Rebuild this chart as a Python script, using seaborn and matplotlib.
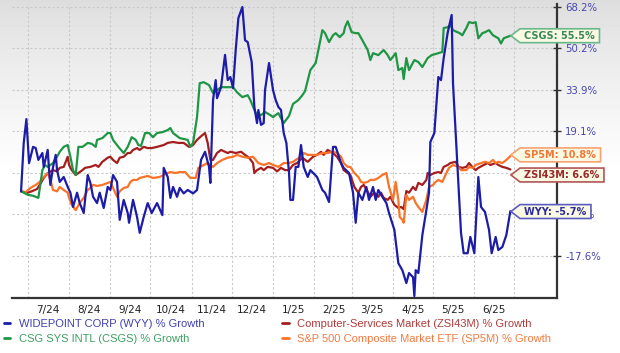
import numpy as np
import pandas as pd
import seaborn as sns
import matplotlib
matplotlib.use('Agg')
import matplotlib.pyplot as plt
import matplotlib.dates as mdates
from matplotlib.path import Path
from matplotlib.lines import Line2D
from matplotlib.ticker import FixedLocator, FixedFormatter, NullFormatter

# % growth, x given as days after the first point
start_date = pd.Timestamp('2024-06-26')

wyy_day = [0, 2, 4, 6, 9, 11, 13, 16, 17, 20,
           21, 22, 24, 26, 27, 29, 32, 35, 37, 39,
           42, 44, 47, 50, 52, 54, 57, 59, 62, 65,
           67, 69, 72, 74, 77, 80, 81, 84, 87, 89,
           92, 95, 98, 102, 106, 107, 110, 112, 114, 117,
           119, 122, 125, 129, 132, 135, 138, 141, 142, 144,
           146, 147, 150, 153, 155, 157, 159, 161, 163, 166,
           168, 170, 173, 175, 177, 178, 180, 182, 183, 186,
           189, 191, 193, 195, 197, 199, 201, 202, 204, 206,
           208, 210, 212, 215, 217, 222, 226, 228, 231, 234,
           236, 240, 242, 246, 249, 251, 253, 256, 259, 261,
           264, 266, 268, 271, 274, 276, 280, 283, 286, 289,
           291, 294, 295, 296, 298, 301, 304, 306, 307, 310,
           313, 315, 317, 320, 323, 324, 328, 330, 332, 335,
           337, 340, 343, 345, 348, 351, 353, 356, 358, 361,
           364, 367]
wyy_pct = [0, 15.1, 23.2, 8.6, 13.8, 13.4, 9.6, 11.8, 7.4, 12.8,
           6.4, 1.9, 7.4, 11.2, 6.4, 2.8, 4.3, 1.3, -0.4, -4.5,
           -0.4, -3.4, -6.2, 4.9, 2.5, -1.6, -3.4, -0.4, -4.8, 1.3,
           0.4, 4.9, 2.8, -8.1, -2.5, -6.2, -8.9, -2.5, -7.3, -11.6,
           -7.3, -3.4, -6.2, -3.4, -6.8, 7.1, 4.3, -1.9, 1.3, -1.6,
           1.0, -0.6, 0.4, -0.6, 0.4, 9.6, 12.2, 7.4, 2.5, 30.0,
           37.5, 30.7, 34.8, 47.5, 37.5, 38.7, 34.5, 49.5, 63.2, 68.2,
           53.6, 52.8, 44.6, 27.5, 21.8, 26.4, 21.2, 21.8, 33.7, 44.2,
           33.7, 30.0, 27.5, 26.4, 18.4, 15.1, 5.5, -2.5, -2.5, 7.4,
           7.4, 14.4, 7.4, 4.3, 6.4, 4.3, 0.4, -0.4, -3.1, 13.8,
           13.8, 8.6, 7.1, 5.5, -0.4, -8.9, -0.4, -2.5, 1.3, -2.5,
           1.3, -2.5, 0.4, -1.6, -3.4, -6.2, -10.8, -19.4, -21.1, -24.2,
           -21.8, -22.8, -27.2, -21.1, -21.8, -12.2, -5.4, -0.4, 15.4, 18.4,
           38.7, 37.5, 46.2, 56.8, 64.6, 36.3, 2.5, -11.6, -16.9, -16.9,
           -12.7, -16.9, 4.3, -4.5, -5.9, -10.8, -16.9, -12.7, -16.1, -15.3,
           -12.2, -5.7]

csgs_day = [0, 5, 9, 13, 16, 18, 20, 24, 27, 29,
            32, 35, 37, 39, 41, 43, 46, 48, 50, 53,
            56, 57, 61, 65, 67, 69, 73, 77, 80, 83,
            86, 88, 90, 93, 96, 99, 102, 106, 110, 112,
            114, 119, 125, 127, 129, 132, 134, 137, 141, 144,
            147, 150, 155, 159, 162, 166, 170, 172, 176, 180,
            183, 187, 189, 193, 197, 201, 204, 208, 211, 213,
            217, 221, 223, 226, 228, 231, 234, 236, 239, 242,
            243, 245, 248, 251, 253, 256, 260, 262, 264, 268,
            272, 275, 277, 281, 283, 286, 287, 289, 291, 295,
            298, 301, 305, 308, 313, 316, 317, 320, 322, 324,
            329, 331, 334, 336, 339, 341, 343, 346, 348, 351,
            354, 358, 360, 362, 367]
csgs_pct = [0, -1.0, -1.3, -1.9, 6.4, 8.0, 7.4, 8.6, 10.6, 12.2,
            13.8, 14.4, 10.6, 6.4, 4.9, 13.8, 13.8, 14.4, 15.1, 14.8,
            13.8, 16.1, 16.7, 18.4, 18.4, 16.1, 13.8, 11.8, 13.8, 17.0,
            16.1, 14.4, 14.1, 18.4, 18.4, 17.0, 18.4, 18.7, 19.4, 20.1,
            18.4, 16.7, 16.1, 13.8, 15.1, 23.9, 36.3, 36.7, 35.6, 32.6,
            33.7, 34.8, 34.8, 34.8, 32.9, 31.1, 31.8, 30.0, 25.3, 24.6,
            25.7, 24.6, 23.9, 25.3, 21.8, 24.3, 28.6, 30.0, 31.8, 33.3,
            41.4, 44.2, 49.5, 57.9, 56.6, 52.8, 55.7, 56.6, 54.9, 56.6,
            59.2, 61.8, 57.0, 56.6, 56.6, 53.6, 49.5, 45.4, 48.2, 47.4,
            49.5, 47.4, 45.4, 48.2, 41.4, 42.2, 37.9, 46.2, 41.4, 45.4,
            44.6, 42.6, 46.2, 47.4, 48.2, 48.7, 58.8, 59.2, 60.1, 57.9,
            56.6, 55.7, 58.8, 61.4, 61.0, 61.4, 54.4, 56.6, 57.0, 57.9,
            55.7, 54.4, 52.2, 54.4, 55.5]

zsi_day = [0, 5, 8, 12, 14, 17, 20, 24, 27, 29,
           32, 35, 36, 38, 41, 43, 46, 48, 52, 56,
           58, 61, 65, 67, 69, 72, 74, 77, 80, 82,
           84, 87, 89, 92, 95, 98, 102, 107, 110, 114,
           118, 122, 126, 129, 132, 136, 138, 140, 142, 144,
           147, 150, 155, 157, 161, 165, 168, 171, 174, 175,
           177, 180, 182, 185, 189, 192, 195, 198, 201, 204,
           207, 211, 215, 219, 222, 225, 227, 230, 234, 237,
           240, 242, 245, 247, 250, 253, 255, 257, 260, 262,
           265, 268, 270, 272, 275, 277, 280, 283, 285, 287,
           289, 291, 294, 296, 298, 301, 304, 305, 307, 310,
           313, 315, 317, 320, 322, 326, 328, 331, 334, 336,
           339, 341, 343, 347, 350, 352, 356, 358, 361, 364,
           367]
zsi_pct = [0, -0.4, 0, 0.7, 1.9, 4.0, 5.5, 6.4, 6.0, 7.1,
           7.4, 10.6, 8.0, 6.4, 4.9, 5.5, 6.4, 7.1, 7.4, 8.0,
           7.4, 9.0, 10.3, 10.6, 9.6, 8.6, 10.3, 10.6, 11.8, 11.8,
           12.8, 13.4, 12.8, 13.8, 13.4, 13.4, 13.8, 14.4, 15.1, 15.4,
           15.1, 15.1, 13.8, 14.4, 16.1, 17.7, 18.4, 15.1, 9.6, 9.6,
           11.8, 12.8, 11.8, 12.2, 11.8, 12.2, 11.2, 10.3, 8.6, 5.5,
           6.4, 7.1, 6.4, 7.4, 7.1, 6.0, 7.1, 6.4, 6.4, 8.0,
           8.6, 10.3, 9.0, 10.6, 11.2, 12.2, 11.2, 12.8, 11.8, 10.6,
           8.6, 6.4, 5.5, 4.9, 1.3, -0.4, 1.3, 1.9, -0.1, -1.6,
           -0.4, -1.6, -0.4, -1.9, -2.5, -1.6, -3.9, -4.8, -4.5, -5.1,
           0.1, -0.4, 1.3, 0.4, 2.5, 1.9, 3.4, 5.5, 4.9, 5.5,
           5.8, 5.5, 7.4, 8.0, 8.6, 9.0, 7.4, 7.1, 7.4, 8.6,
           7.1, 6.4, 7.1, 8.0, 8.6, 8.0, 8.6, 8.0, 7.4, 7.1,
           6.6]

sp5_day = [0, 3, 7, 11, 14, 17, 20, 22, 24, 27,
           29, 32, 35, 36, 38, 41, 44, 47, 50, 52,
           54, 57, 61, 65, 67, 69, 72, 74, 77, 80,
           82, 84, 87, 89, 92, 95, 99, 104, 110, 112,
           116, 119, 123, 127, 131, 133, 137, 140, 142, 144,
           147, 151, 155, 159, 162, 166, 170, 174, 176, 178,
           182, 186, 189, 193, 197, 201, 204, 206, 210, 212,
           215, 219, 222, 226, 230, 234, 237, 240, 242, 245,
           247, 250, 253, 255, 257, 260, 262, 265, 268, 271,
           274, 276, 279, 281, 283, 284, 286, 287, 289, 291,
           294, 296, 298, 301, 304, 306, 309, 311, 313, 316,
           319, 321, 324, 328, 330, 334, 336, 339, 341, 345,
           348, 351, 354, 356, 358, 361, 364, 367]
sp5_pct = [0, -0.4, 1.0, 1.9, 2.8, 4.3, 5.5, 3.4, 0.4, 0,
           1.3, 0.4, -0.4, -1.9, -3.9, -5.4, -3.4, -1.9, 0.4, 1.0,
           1.9, 1.6, 1.9, 2.5, 2.8, 1.0, -1.6, 0, 1.0, 1.3,
           2.8, 3.4, 3.4, 4.0, 4.3, 4.6, 4.0, 4.3, 5.5, 5.8,
           5.5, 5.8, 5.8, 4.0, 4.0, 7.1, 8.0, 8.6, 8.0, 7.4,
           8.6, 9.6, 10.3, 10.6, 11.2, 10.6, 10.3, 10.6, 9.6, 8.6,
           8.0, 8.6, 8.0, 7.4, 8.6, 8.6, 9.0, 9.6, 10.6, 11.8,
           11.2, 11.2, 11.2, 11.8, 11.8, 12.2, 11.8, 10.6, 8.6, 7.4,
           7.4, 5.5, 4.3, 2.8, 2.5, 2.8, 3.4, 3.4, 4.0, 4.9,
           5.5, 1.3, -2.5, 2.8, -2.5, -7.3, -8.1, -8.9, -1.1, -2.5,
           -1.6, -3.4, -4.5, -5.9, -2.5, 1.3, 1.9, 2.8, 3.4, 2.8,
           5.5, 7.1, 8.0, 7.4, 6.4, 6.4, 7.4, 7.1, 8.0, 8.6,
           9.0, 8.6, 9.6, 8.6, 9.0, 8.6, 9.6, 10.8]

series_names = ['ZSI43M', 'SP5M', 'CSGS', 'WYY']
line_colors = {'WYY': '#1c1ca8', 'CSGS': '#1f9645', 'ZSI43M': '#a41e1e', 'SP5M': '#fb7328'}

tag_text = {'WYY': 'WYY: -5.7%', 'CSGS': 'CSGS: 55.5%', 'ZSI43M': 'ZSI43M: 6.6%', 'SP5M': 'SP5M: 10.8%'}
tag_y = {'WYY': -5.8, 'CSGS': 55.5, 'ZSI43M': 4.9, 'SP5M': 11.2}
tag_text_col = {'WYY': '#2c2c9c', 'CSGS': '#3a8a55', 'ZSI43M': '#9a2a2a', 'SP5M': '#f07838'}
tag_edge_col = {'WYY': '#5c5cc0', 'CSGS': '#6ab88a', 'ZSI43M': '#b25555', 'SP5M': '#f7a272'}

legend_labels = ['WIDEPOINT CORP (WYY) % Growth', 'CSG SYS INTL (CSGS) % Growth',
                 'Computer-Services Market (ZSI43M) % Growth', 'S&P 500 Composite Market ETF (SP5M) % Growth']
legend_keys = ['WYY', 'CSGS', 'ZSI43M', 'SP5M']
legend_text_col = ['#4040b0', '#3f9f62', '#b03a3a', '#f27a42']

ytick_vals = [-17.6, -6.5, 5.5, 19.1, 33.9, 50.2, 68.2]
ytick_labels = ['-17.6%', '-6.5%', '5.5%', '19.1%', '33.9%', '50.2%', '68.2%']
month_labels = ['7/24', '8/24', '9/24', '10/24', '11/24', '12/24',
                '1/25', '2/25', '3/25', '4/25', '5/25', '6/25']


def tag_box(x0, y0, width, height, mutation_size):
	# price-tag shaped box, pointed on the left
	padx = 0.45 * mutation_size
	pady = 0.2 * mutation_size
	x0, y0 = x0 - padx, y0 - pady
	x1, y1 = x0 + width + 2 * padx, y0 + height + 2 * pady
	tip = 0.65 * (y1 - y0)
	verts = [(x0, y0), (x1, y0), (x1, y1), (x0, y1), (x0 - tip, (y0 + y1) / 2), (x0, y0)]
	return Path(verts, closed=True)


def fwd(v):
	return np.log(np.maximum(np.asarray(v, dtype=float) + 122.0, 1e-6))


def inv(t):
	return np.exp(t) - 122.0


frames = []
for name, days, pct in [('ZSI43M', zsi_day, zsi_pct), ('SP5M', sp5_day, sp5_pct),
                        ('CSGS', csgs_day, csgs_pct), ('WYY', wyy_day, wyy_pct)]:
	frames.append(pd.DataFrame({'date': start_date + pd.to_timedelta(days, unit='D'),
	                            'pct': pct, 'series': name}))
df = pd.concat(frames, ignore_index=True)

sns.set_style('white')
plt.rcParams['font.family'] = ['DejaVu Sans']

fig = plt.figure(figsize=(6.2, 3.53), dpi=100)
fig.patch.set_facecolor('white')

# grey-to-white fade at the top of the picture
bg = fig.add_axes([0, 0, 1, 1], zorder=-10)
rows = np.arange(353)
shade = 0.865 + 0.135 * np.clip(rows / 175.0, 0, 1) ** 0.8
bg.imshow(shade[:, None], cmap='gray', vmin=0, vmax=1, aspect='auto', extent=[0, 1, 0, 1], origin='upper')
bg.axis('off')

ax = fig.add_axes([12 / 620, 55 / 353, 545 / 620, 294 / 353])
ax.patch.set_alpha(0)

sns.lineplot(data=df, x='date', y='pct', hue='series', hue_order=series_names,
             palette=line_colors, linewidth=1.6, estimator=None, sort=False,
             legend=False, ax=ax)

ax.set_yscale('function', functions=(fwd, inv))
ax.set_ylim(-27.65, 69.6)
ax.set_xlim(pd.Timestamp('2024-06-19 05:00'), pd.Timestamp('2025-08-02'))

month_starts = pd.date_range('2024-07-01', '2025-07-01', freq='MS')
mid_months = pd.date_range('2024-07-01', '2025-06-01', freq='MS') + pd.Timedelta(days=15)
ax.xaxis.set_major_locator(FixedLocator(mdates.date2num(month_starts)))
ax.xaxis.set_major_formatter(NullFormatter())
ax.xaxis.set_minor_locator(FixedLocator(mdates.date2num(mid_months)))
ax.xaxis.set_minor_formatter(FixedFormatter(month_labels))

ax.yaxis.tick_right()
ax.set_yticks(ytick_vals)
ax.set_yticklabels(ytick_labels)
ax.yaxis.set_minor_locator(FixedLocator([]))
ax.set_xlabel('')
ax.set_ylabel('')

ax.grid(True, which='major', color='#c9c9c9', linestyle=(0, (2, 2)), linewidth=0.8)
ax.tick_params(axis='x', which='both', length=0, labelsize=7.5, labelcolor='#222222', pad=5)
ax.tick_params(axis='y', which='major', direction='inout', length=6, width=1, color='#333333',
               labelsize=7.3, labelcolor='#4646b0', pad=3)

for s in ['left', 'top']:
	ax.spines[s].set_visible(False)
for s in ['right', 'bottom']:
	ax.spines[s].set_color('#333333')
	ax.spines[s].set_linewidth(1.6)

# end-of-line value tags
for name in legend_keys:
	last_day = {'WYY': wyy_day, 'CSGS': csgs_day, 'ZSI43M': zsi_day, 'SP5M': sp5_day}[name][-1]
	ax.annotate(tag_text[name], xy=(start_date + pd.Timedelta(days=last_day), tag_y[name]),
	            xytext=(14, 0), textcoords='offset pixels', ha='left', va='center',
	            fontsize=7, fontweight='bold', color=tag_text_col[name],
	            bbox=dict(boxstyle=tag_box, fc='#fafae4', ec=tag_edge_col[name], lw=1.2),
	            annotation_clip=False, zorder=6)

handles = [Line2D([], [], color=line_colors[k], lw=2) for k in legend_keys]
fig.legend(handles, legend_labels, ncol=2, loc='upper left', bbox_to_anchor=(4 / 620, 0.097),
           frameon=False, handlelength=0.55, handletextpad=0.8, columnspacing=7.0,
           labelspacing=0.45, borderpad=0, borderaxespad=0, labelcolor=legend_text_col,
           prop={'family': 'Liberation Sans', 'size': 8})

fig.savefig('out.png', dpi=100)
plt.close()
